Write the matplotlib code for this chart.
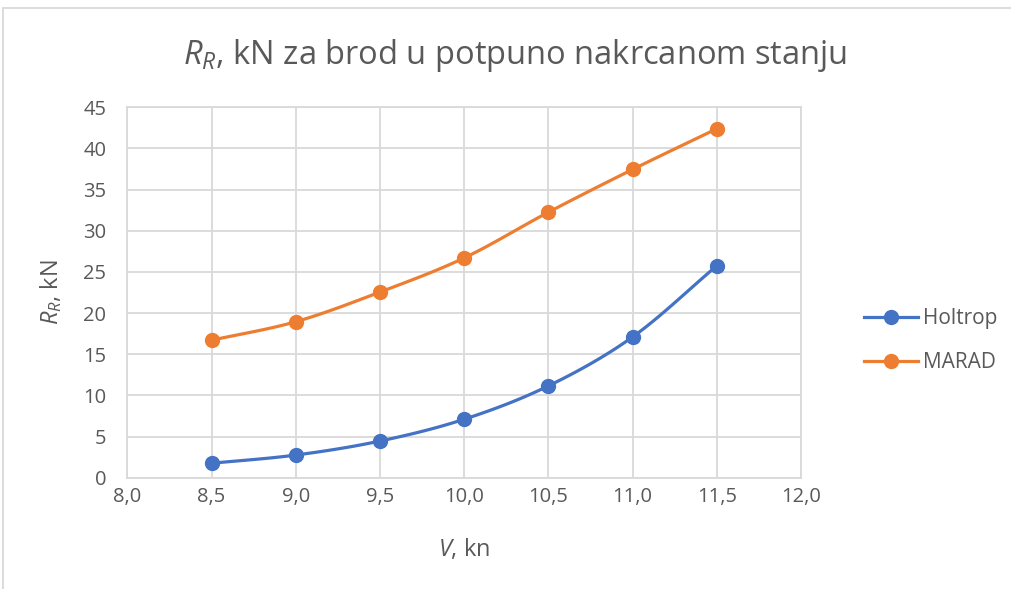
import matplotlib
matplotlib.use("Agg")
import matplotlib.pyplot as plt
import numpy as np
from matplotlib.patches import Rectangle
from matplotlib.ticker import FuncFormatter

FONT = "Open Sans"
plt.rcParams['font.family'] = [FONT, 'DejaVu Sans']
plt.rcParams['mathtext.fontset'] = 'custom'
plt.rcParams['mathtext.rm'] = FONT
plt.rcParams['mathtext.it'] = FONT + ':italic'

# data
speed = [8.5, 9.0, 9.5, 10.0, 10.5, 11.0, 11.5]
holtrop = [1.75, 2.75, 4.45, 7.1, 11.15, 17.1, 25.75]
marad = [16.7, 18.95, 22.55, 26.7, 32.25, 37.45, 42.4]
x_ticks = [8.0, 8.5, 9.0, 9.5, 10.0, 10.5, 11.0, 11.5, 12.0]
y_ticks = [0, 5, 10, 15, 20, 25, 30, 35, 40, 45]

BLUE = "#4472C4"
ORANGE = "#ED7D31"
GREY = "#595959"
GRID = "#D9D9D9"


def smooth(x, y, n=20):
    # Catmull-Rom curve through the points, like Excel's smoothed line
    x = np.asarray(x, float)
    y = np.asarray(y, float)
    px = np.concatenate([[2 * x[0] - x[1]], x, [2 * x[-1] - x[-2]]])
    py = np.concatenate([[2 * y[0] - y[1]], y, [2 * y[-1] - y[-2]]])
    xs, ys = [], []
    t = np.linspace(0, 1, n)
    for i in range(1, len(px) - 2):
        for p, out in ((px, xs), (py, ys)):
            p0, p1, p2, p3 = p[i - 1], p[i], p[i + 1], p[i + 2]
            out.extend(0.5 * ((2 * p1) + (-p0 + p2) * t
                              + (2 * p0 - 5 * p1 + 4 * p2 - p3) * t ** 2
                              + (-p0 + 3 * p1 - 3 * p2 + p3) * t ** 3))
    return xs, ys


fig = plt.figure(figsize=(10.11, 5.89), dpi=100)
ax = fig.add_axes([0.1259, 0.189, 0.6664, 0.6288])

# chart area border
fig.patches.append(Rectangle((3 / 1011, -0.1), 1.2, 1 - 8 / 589 + 0.1, transform=fig.transFigure,
                             fill=False, edgecolor=GRID, linewidth=1.3))

for vals, col, name in ((holtrop, BLUE, "Holtrop"), (marad, ORANGE, "MARAD")):
    sx, sy = smooth(speed, vals)
    ax.plot(sx, sy, color=col, linewidth=2.3, solid_capstyle='round', zorder=3)
    ax.plot(speed, vals, 'o', color=col, markersize=10, zorder=4)
    ax.plot([], [], color=col, linewidth=2.3, marker='o', markersize=10, label=name)

ax.set_xlim(8, 12)
ax.set_ylim(0, 45)
ax.set_xticks(x_ticks)
ax.set_yticks(y_ticks)
ax.xaxis.set_major_formatter(FuncFormatter(lambda v, p: f"{v:.1f}".replace(".", ",")))
ax.grid(True, color=GRID, linewidth=1.3)
ax.set_axisbelow(True)
for s in ax.spines.values():
    s.set_color(GRID)
    s.set_linewidth(1.3)
ax.tick_params(length=0, labelsize=14.5, labelcolor=GREY)
ax.tick_params(axis='x', pad=7)
ax.tick_params(axis='y', pad=15)

fig.text(515 / 1011, 1 - 55 / 589, r"$R_R$, kN za brod u potpuno nakrcanom stanju",
         fontsize=23.5, color=GREY, ha='center', va='center')
ax.set_xlabel(r"$V$, kn", fontsize=17, color=GREY, labelpad=21)
ax.set_ylabel(r"$R_R$, kN", fontsize=17, color=GREY, labelpad=14)

ax.legend(loc='center left', bbox_to_anchor=(1.065, 0.37), frameon=False, fontsize=15,
          labelcolor=GREY, handlelength=2.6, labelspacing=1.1, handletextpad=0.25)

fig.savefig("out.png", dpi=100)
